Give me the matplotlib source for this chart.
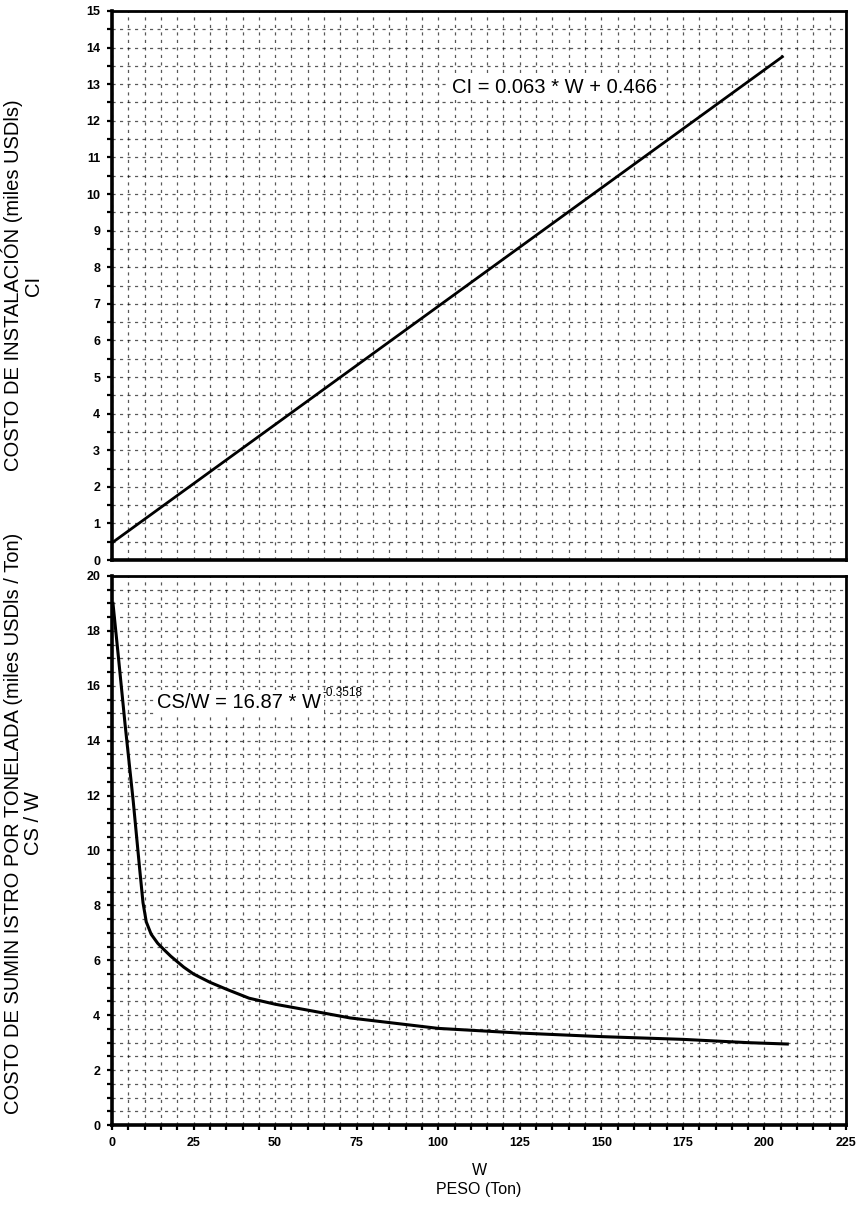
import matplotlib
matplotlib.use("Agg")
import matplotlib.pyplot as plt
from matplotlib.ticker import MultipleLocator

plt.rcParams['font.family'] = ['Liberation Sans', 'DejaVu Sans']

# ---- data ----
ci_w = [0.0, 205.5]
ci_val = [0.47, 13.75]

cs_w = [0.3, 2, 4, 6.5, 8.5, 9.5, 10.5, 12, 14, 16, 18, 22, 25, 30, 35, 42,
        50, 57, 73, 100, 125, 150, 175, 195, 207]
cs_val = [19.0, 17.0, 14.6, 11.8, 9.3, 8.1, 7.4, 6.95, 6.62, 6.38, 6.15,
          5.75, 5.5, 5.2, 4.95, 4.62, 4.4, 4.25, 3.9, 3.52, 3.35, 3.22,
          3.12, 3.0, 2.95]

x_ticks = [0, 25, 50, 75, 100, 125, 150, 175, 200, 225]
top_yticks = list(range(0, 16))
bot_yticks = list(range(0, 21, 2))

eq_top = "CI = 0.063 * W + 0.466"
eq_bot = "CS/W = 16.87 * W"
eq_bot_exp = "-0.3518"
ylab_top = "COSTO DE INSTALACIÓN (miles USDls)\nCI"
ylab_bot = "COSTO DE SUMIN ISTRO POR TONELADA (miles USDls / Ton)\nCS / W"
xlab = "W\nPESO (Ton)"

fig = plt.figure(figsize=(8.57, 12.08), dpi=100)
ax1 = fig.add_axes([0.1307, 0.5364, 0.8565, 0.4545])
ax2 = fig.add_axes([0.1307, 0.0687, 0.8565, 0.4545])

grid_kw = dict(color='black', linewidth=0.9, linestyle=(0, (2.5, 3.5)), alpha=0.65)

for ax in (ax1, ax2):
    ax.set_xlim(0, 225)
    ax.xaxis.set_major_locator(MultipleLocator(25))
    ax.xaxis.set_minor_locator(MultipleLocator(5))
    ax.yaxis.set_minor_locator(MultipleLocator(0.5))
    ax.grid(True, which='both', **grid_kw)
    ax.set_axisbelow(True)
    for side in ('left', 'bottom'):
        ax.spines[side].set_linewidth(2.6)
    for side in ('top', 'right'):
        ax.spines[side].set_linewidth(2.0)
    ax.tick_params(which='both', direction='out', length=3.5, width=1.6,
                   labelsize=9, pad=5)

box = dict(facecolor='white', edgecolor='none', pad=2)

# top panel
ax1.plot(ci_w, ci_val, color='black', linewidth=2.0)
ax1.set_ylim(0, 15)
ax1.set_yticks(top_yticks)
ax1.tick_params(axis='x', which='both', bottom=False, labelbottom=False)
ax1.text(104.2, 12.9, eq_top, fontsize=14.5, ha='left', va='center', bbox=box)
ax1.set_ylabel(ylab_top, fontsize=14.5, linespacing=1.1)
ax1.yaxis.set_label_coords(-0.094, 0.5)

# bottom panel
ax2.plot(cs_w, cs_val, color='black', linewidth=2.2)
ax2.set_ylim(0, 20)
ax2.set_yticks(bot_yticks)
ax2.set_xticks(x_ticks)
ax2.text(13.8, 15.38, eq_bot, fontsize=14.5, ha='left', va='center', bbox=box)
ax2.text(64.6, 15.74, eq_bot_exp, fontsize=8.5, ha='left', va='center')
ax2.set_ylabel(ylab_bot, fontsize=14.5, linespacing=1.1)
ax2.yaxis.set_label_coords(-0.094, 0.55)
ax2.set_xlabel(xlab, fontsize=11.5, linespacing=1.35, labelpad=10)

for ax in (ax1, ax2):
    for lab in ax.get_yticklabels() + ax.get_xticklabels():
        lab.set_fontweight('bold')

fig.savefig("out.png", dpi=100)
